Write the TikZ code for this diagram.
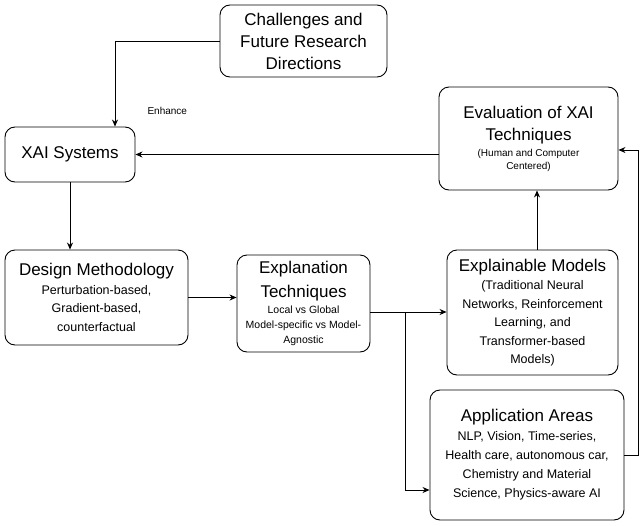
\documentclass[tikz,border=0pt]{standalone}
\usepackage{fontspec}
\setmainfont{Liberation Sans}
\usetikzlibrary{arrows.meta}
\newcommand{\tbig}[1]{{\fontsize{17}{19}\selectfont #1}}
\begin{document}
\begin{tikzpicture}[x=1pt,y=-1pt,
 box/.style={draw,rounded corners=10pt,line width=0.9pt,align=center,inner sep=0pt},
 big/.style={font=\fontsize{17}{22}\selectfont},
 body/.style={font=\fontsize{12.5}{18.5}\selectfont},
 sml/.style={font=\fontsize{10}{13}\selectfont},
 arr/.style={-{Stealth[length=7pt,width=6pt]},line width=0.8pt}]
\useasboundingbox (0,0) rectangle (640,525);
\node[box,minimum width=167pt,minimum height=72pt,big] (ch) at (303.5,41) {Challenges and\\Future Research\\Directions};
\node[box,minimum width=130pt,minimum height=55pt,big] (xai) at (70,154.5) {XAI Systems};
\node[box,minimum width=179pt,minimum height=103pt,sml] (ev) at (528.5,138.5) {\tbig{Evaluation of XAI}\\[9pt]\tbig{Techniques}\\[3pt](Human and Computer\\Centered)};
\node[box,minimum width=183pt,minimum height=95pt,body] (dm) at (96.5,297.5) {\tbig{Design Methodology}\\Perturbation-based,\\Gradient-based,\\counterfactual};
\node[box,minimum width=133pt,minimum height=97pt,font=\fontsize{10.5}{15}\selectfont] (et) at (303.5,303.5) {\tbig{Explanation}\\[8pt]\tbig{Techniques}\\[1pt]Local vs Global\\Model-specific vs Model-\\Agnostic};
\node[box,minimum width=171pt,minimum height=125pt,body] (em) at (532.5,312.5) {\tbig{Explainable Models}\\(Traditional Neural\\Networks, Reinforcement\\Learning, and\\Transformer-based\\Models)};
\node[box,minimum width=194pt,minimum height=130pt,body,font=\fontsize{12.5}{19}\selectfont] (ap) at (527,455) {\tbig{Application Areas}\\NLP, Vision, Time-series,\\Health care, autonomous car,\\Chemistry and Material\\Science, Physics-aware AI};
\draw[arr] (ch.west) -| (xai.north -| 115,0);
\node[sml,anchor=west] (enh) at (144,111) {Enhance};
\draw[arr] (ev.west |- xai.east) -- (xai.east);
\draw[arr] (xai.south) -- (xai.south |- dm.north);
\draw[arr] (dm.east) -- (dm.east -| et.west);
\coordinate (br) at (405,312);
\draw[arr] (et.east |- br) -- (em.west |- br);
\draw[arr] (br) |- (ap.west |- 0,490);
\draw[arr] (em.north -| 537,0) -- (ev.south -| 537,0);
\coordinate (rc) at (638,455);
\draw[arr] (ap.east |- rc) -- (rc) |- (ev.east |- 0,150);
\end{tikzpicture}
\end{document}
